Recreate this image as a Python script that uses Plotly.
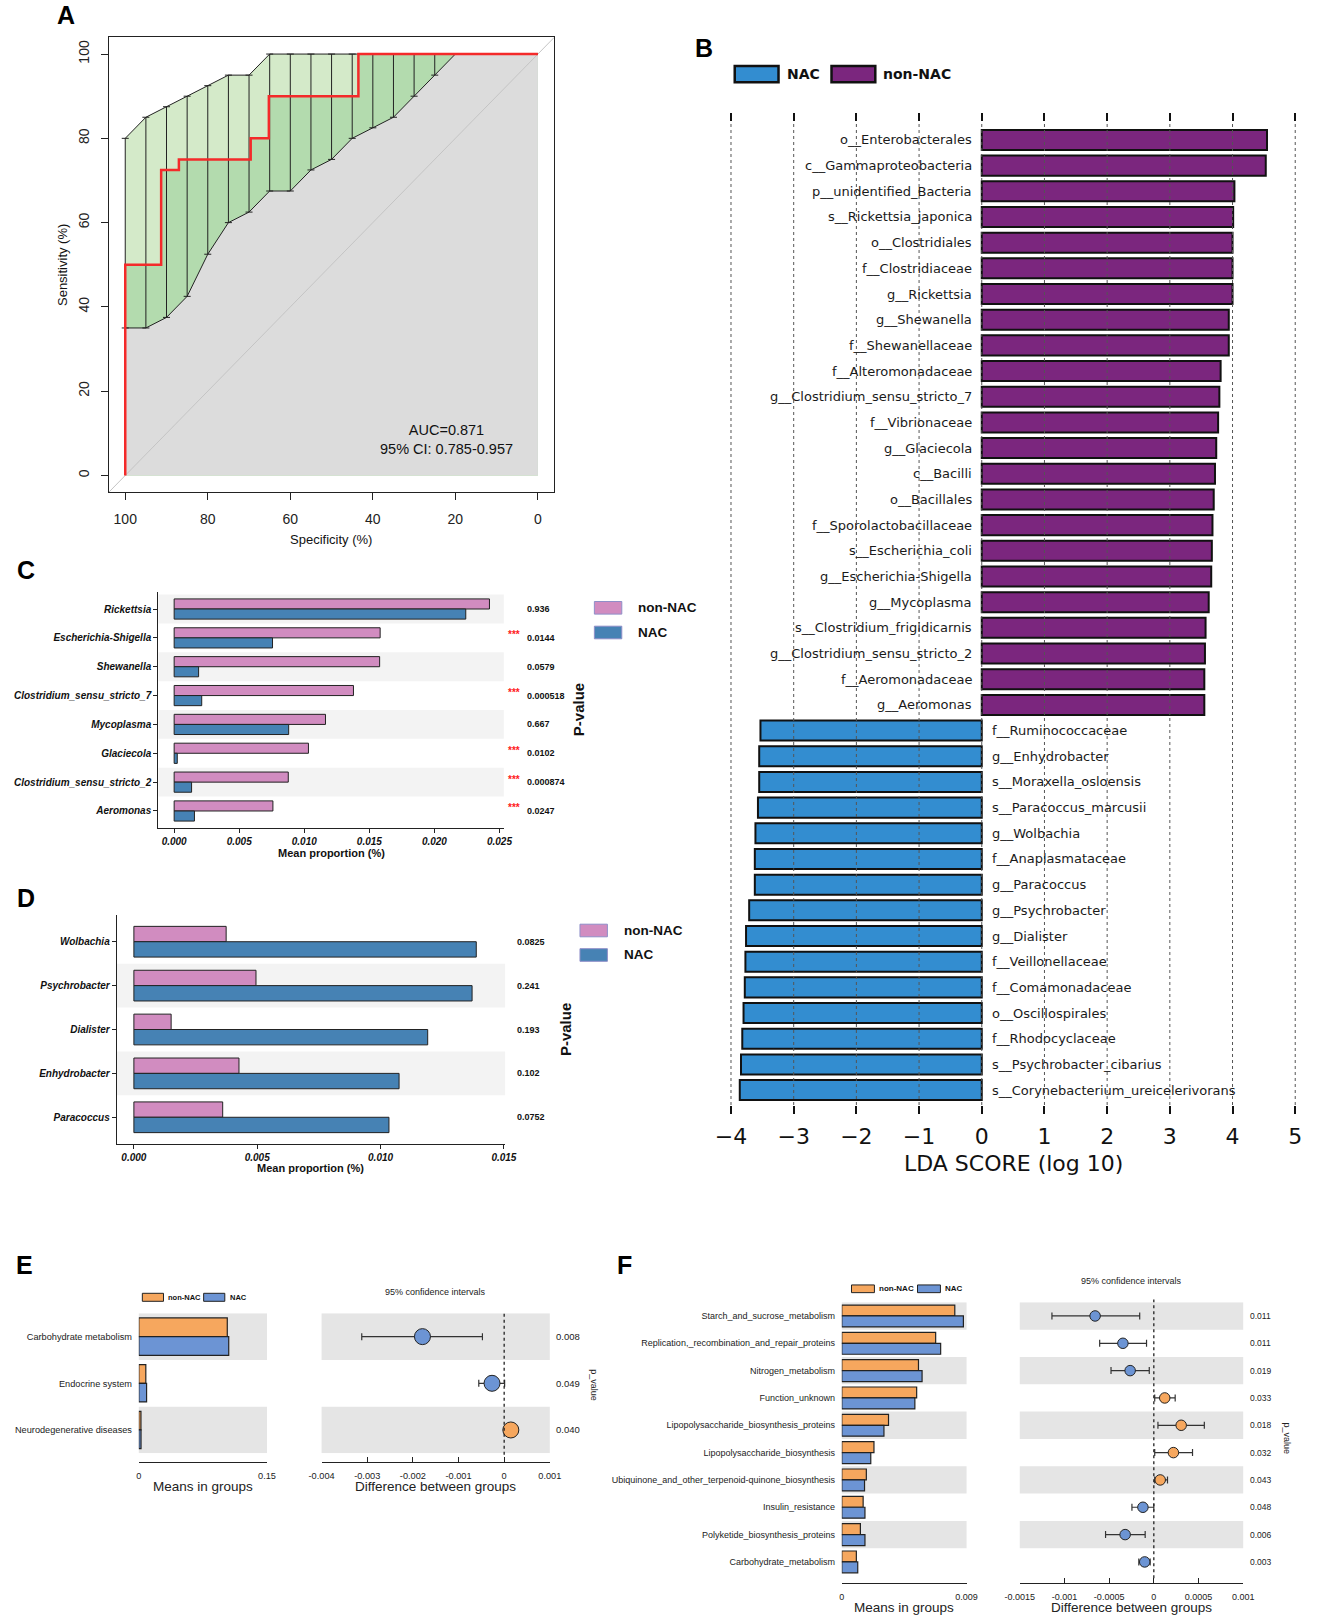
"""Six-panel microbiome figure: ROC, LEfSe, genus proportions and PICRUSt pathway comparisons."""

import plotly.graph_objects as go

W, H = 1317, 1620
ARIAL = "Liberation Sans, Arial, sans-serif"
DEJAVU = "DejaVu Sans, sans-serif"

# ---------------- A: ROC curve ----------------
roc_spec = [100, 100, 91.3, 87.0, 69.6, 65.2, 43.5, 0]
roc_sens = [0, 50, 72.5, 75, 80, 90, 100, 100]
ci_spec = [100, 95, 90, 85, 80, 75, 70, 65, 60, 55, 50, 45, 40, 35, 30, 25, 20, 15, 10, 5, 0]
ci_upper = [80, 85, 87.5, 90, 92.5, 95, 95, 100, 100, 100, 100, 100, 100, 100, 100, 100, 100, 100, 100, 100, 100]
ci_lower = [35, 35, 37.5, 42.5, 52.5, 60, 62.5, 67.5, 67.5, 72.5, 75, 80, 82.5, 85, 90, 95, 100, 100, 100, 100, 100]
roc_ticks = [0, 20, 40, 60, 80, 100]
auc_text = "AUC=0.871<br>95% CI: 0.785-0.957"

# ---------------- B: LEfSe ----------------
lefse_features = [
    "o__Enterobacterales", "c__Gammaproteobacteria", "p__unidentified_Bacteria", "s__Rickettsia_japonica",
    "o__Clostridiales", "f__Clostridiaceae", "g__Rickettsia", "g__Shewanella", "f__Shewanellaceae",
    "f__Alteromonadaceae", "g__Clostridium_sensu_stricto_7", "f__Vibrionaceae", "g__Glaciecola",
    "c__Bacilli", "o__Bacillales", "f__Sporolactobacillaceae", "s__Escherichia_coli",
    "g__Escherichia-Shigella", "g__Mycoplasma", "s__Clostridium_frigidicarnis",
    "g__Clostridium_sensu_stricto_2", "f__Aeromonadaceae", "g__Aeromonas",
    "f__Ruminococcaceae", "g__Enhydrobacter", "s__Moraxella_osloensis", "s__Paracoccus_marcusii",
    "g__Wolbachia", "f__Anaplasmataceae", "g__Paracoccus", "g__Psychrobacter", "g__Dialister",
    "f__Veillonellaceae", "f__Comamonadaceae", "o__Oscillospirales", "f__Rhodocyclaceae",
    "s__Psychrobacter_cibarius", "s__Corynebacterium_ureicelerivorans",
]
lefse_scores = [
    4.55, 4.53, 4.03, 4.01, 4.00, 4.00, 4.00, 3.94, 3.94,
    3.81, 3.79, 3.77, 3.74, 3.72, 3.70, 3.68, 3.67, 3.66, 3.62, 3.57, 3.56, 3.55, 3.55,
    -3.53, -3.55, -3.55, -3.57, -3.61, -3.62, -3.62, -3.71, -3.76,
    -3.77, -3.78, -3.80, -3.82, -3.84, -3.86,
]
lda_ticks = [-4, -3, -2, -1, 0, 1, 2, 3, 4, 5]

# ---------------- C: significant genera ----------------
c_genera = ["Rickettsia", "Escherichia-Shigella", "Shewanella", "Clostridium_sensu_stricto_7",
            "Mycoplasma", "Glaciecola", "Clostridium_sensu_stricto_2", "Aeromonas"]
c_non_nac = [0.02423, 0.01583, 0.01579, 0.01378, 0.01163, 0.01032, 0.00877, 0.00759]
c_nac = [0.02241, 0.00756, 0.00188, 0.00212, 0.00880, 0.00024, 0.00134, 0.00156]
c_pvalues = ["0.936", "0.0144", "0.0579", "0.000518", "0.667", "0.0102", "0.000874", "0.0247"]
c_ticks = [0, 0.005, 0.010, 0.015, 0.020, 0.025]

# ---------------- D: NAC-enriched genera ----------------
d_genera = ["Wolbachia", "Psychrobacter", "Dialister", "Enhydrobacter", "Paracoccus"]
d_non_nac = [0.00374, 0.00495, 0.00151, 0.00426, 0.00360]
d_nac = [0.01388, 0.01371, 0.01191, 0.01075, 0.01034]
d_pvalues = ["0.0825", "0.241", "0.193", "0.102", "0.0752"]
d_ticks = [0, 0.005, 0.010, 0.015]

# ---------------- E: KEGG level 2 ----------------
e_pathways = ["Carbohydrate metabolism", "Endocrine system", "Neurodegenerative diseases"]
e_non_nac = [0.1035, 0.0082, 0.0025]
e_nac = [0.1052, 0.0091, 0.0026]
e_diff = [-0.00179, -0.000266, 0.000146]
e_ci_low = [-0.00312, -0.000556, 0.00002]
e_ci_high = [-0.000476, 0.00001, 0.00027]
e_pvalues = ["0.008", "0.049", "0.040"]
e_mean_ticks = [0, 0.15]
e_mean_labels = ["0", "0.15"]
e_diff_ticks = [-0.004, -0.003, -0.002, -0.001, 0, 0.001]
e_diff_labels = ["-0.004", "-0.003", "-0.002", "-0.001", "0", "0.001"]

# ---------------- F: KEGG level 3 ----------------
f_pathways = ["Starch_and_sucrose_metabolism", "Replication,_recombination_and_repair_proteins",
              "Nitrogen_metabolism", "Function_unknown", "Lipopolysaccharide_biosynthesis_proteins",
              "Lipopolysaccharide_biosynthesis", "Ubiquinone_and_other_terpenoid-quinone_biosynthesis",
              "Insulin_resistance", "Polyketide_biosynthesis_proteins", "Carbohydrate_metabolism"]
f_non_nac = [0.00815, 0.00677, 0.00553, 0.00540, 0.00337, 0.00232, 0.00177, 0.00154, 0.00134, 0.00105]
f_nac = [0.00877, 0.00713, 0.00579, 0.00527, 0.00304, 0.00209, 0.00164, 0.00167, 0.00167, 0.00115]
f_diff = [-0.000657, -0.000346, -0.000265, 0.000122, 0.000306, 0.000219, 0.0000713, -0.000122, -0.000321, -0.000102]
f_ci_low = [-0.00114, -0.000606, -0.000479, 0.00001, 0.000046, 0.00001, 0.00001, -0.000245, -0.00054, -0.000168]
f_ci_high = [-0.000158, -0.0000815, -0.000051, 0.000239, 0.000565, 0.000433, 0.000153, 0.0, -0.0000968, -0.000041]
f_pvalues = ["0.011", "0.011", "0.019", "0.033", "0.018", "0.032", "0.043", "0.048", "0.006", "0.003"]
f_mean_ticks = [0, 0.009]
f_mean_labels = ["0", "0.009"]
f_diff_ticks = [-0.0015, -0.001, -0.0005, 0, 0.0005, 0.001]
f_diff_labels = ["-0.0015", "-0.001", "-0.0005", "0", "0.0005", "0.001"]

# colours
LIGHT_GREEN, DARK_GREEN, AUC_GRAY = "#d4eac9", "#b3dbae", "#dcdcdc"
ROC_RED = "#f42a2a"
PURPLE, LEFSE_BLUE = "#7b267e", "#338dd0"
PINK, STEEL = "#d18cc0", "#4682b4"
ORANGE, SOFT_BLUE = "#f6a75e", "#6c94d4"

fig = go.Figure()
shapes, notes = [], []


def dom_x(left, right):
    return [left / W, right / W]


def dom_y(top, bottom):
    return [1 - bottom / H, 1 - top / H]


def text_at(text, x, y, size, family=ARIAL, color="#111", weight="normal", style="normal",
            xanchor="center", angle=0):
    notes.append(dict(text=text, x=x / W, y=1 - y / H, xref="paper", yref="paper", showarrow=False,
                      xanchor=xanchor, yanchor="middle", textangle=angle,
                      font=dict(family=family, size=size, color=color, weight=weight, style=style)))


def box_at(x0, y0, x1, y1, fill, line="#111", width=1.0):
    shapes.append(dict(type="rect", xref="paper", yref="paper", x0=x0 / W, x1=x1 / W,
                       y0=1 - y1 / H, y1=1 - y0 / H, fillcolor=fill, line=dict(color=line, width=width)))


# ================= Panel A =================
a_xrange, a_yrange = [104, -4], [-4, 104]
closed_x = ci_spec + [ci_spec[-1], ci_spec[0]]
fig.add_trace(go.Scatter(x=closed_x, y=ci_upper + [0, 0], fill="toself", fillcolor=LIGHT_GREEN,
                         mode="lines", line=dict(width=0), xaxis="x", yaxis="y"))
fig.add_trace(go.Scatter(x=roc_spec + [roc_spec[-1], roc_spec[0]], y=roc_sens + [0, 0], fill="toself",
                         fillcolor=DARK_GREEN, mode="lines", line=dict(width=0, shape="hv"), xaxis="x", yaxis="y"))
fig.add_trace(go.Scatter(x=closed_x, y=ci_lower + [0, 0], fill="toself", fillcolor=AUC_GRAY,
                         mode="lines", line=dict(width=0), xaxis="x", yaxis="y"))
fig.add_trace(go.Scatter(x=a_xrange, y=[100 - v for v in a_xrange], mode="lines",
                         line=dict(color="#c4c4c4", width=1), xaxis="x", yaxis="y"))
for bound in (ci_upper, ci_lower):
    fig.add_trace(go.Scatter(x=ci_spec, y=bound, mode="lines", line=dict(color="#222", width=1),
                             xaxis="x", yaxis="y"))
bar_idx = [i for i in range(len(ci_spec)) if ci_upper[i] > ci_lower[i]]
fig.add_trace(go.Scatter(
    x=[ci_spec[i] for i in bar_idx],
    y=[(ci_upper[i] + ci_lower[i]) / 2 for i in bar_idx],
    mode="markers", marker=dict(size=1, color="rgba(0,0,0,0)"),
    error_y=dict(type="data", symmetric=False,
                 array=[(ci_upper[i] - ci_lower[i]) / 2 for i in bar_idx],
                 arrayminus=[(ci_upper[i] - ci_lower[i]) / 2 for i in bar_idx],
                 color="#222", thickness=1, width=3.5),
    xaxis="x", yaxis="y"))
fig.add_trace(go.Scatter(x=roc_spec, y=roc_sens, mode="lines", line=dict(color=ROC_RED, width=2.5, shape="hv"),
                         xaxis="x", yaxis="y"))

a_axis = dict(showline=True, mirror=True, linecolor="#222", linewidth=1.3, ticks="outside", ticklen=7,
              tickcolor="#222", showgrid=False, zeroline=False, tickvals=roc_ticks,
              tickfont=dict(family=ARIAL, size=14, color="#222"))
fig.update_layout(
    xaxis=dict(a_axis, domain=dom_x(95.7, 550.7), range=a_xrange, anchor="y", ticklabelstandoff=7),
    yaxis=dict(a_axis, domain=dom_y(37.2, 492.3), range=a_yrange, anchor="x", tickangle=-90,
               ticklabelstandoff=6),
)
text_at("Specificity (%)", 323, 540, 13)
text_at("Sensitivity (%)", 48, 265, 13, angle=-90)
text_at(auc_text, 441, 439.5, 14.5)

# ================= Panel B =================
pos = [(f, s) for f, s in zip(lefse_features, lefse_scores) if s > 0]
neg = [(f, s) for f, s in zip(lefse_features, lefse_scores) if s < 0]
fig.add_trace(go.Bar(y=[f for f, _ in pos], x=[s for _, s in pos], orientation="h", width=0.78,
                     marker=dict(color=PURPLE, line=dict(color="#111", width=2)), xaxis="x3", yaxis="y2"))
fig.add_trace(go.Bar(y=[f for f, _ in neg], x=[s for _, s in neg], orientation="h", width=0.78,
                     marker=dict(color=LEFSE_BLUE, line=dict(color="#111", width=2)), xaxis="x2", yaxis="y2"))
b_range = [-4.02, 5.02]
b_ticktext = [str(t) if t >= 0 else "\u2212" + str(-t) for t in lda_ticks]
b_axis = dict(range=b_range, tickvals=lda_ticks, ticks="outside", ticklen=8, tickwidth=1.5, tickcolor="#111",
              showline=False, showgrid=False, zeroline=False)
fig.update_layout(
    xaxis2=dict(b_axis, domain=dom_x(729.7, 1308.3), anchor="y2", ticktext=b_ticktext,
                tickfont=dict(family=DEJAVU, size=22, color="#111"), ticklabelstandoff=4),
    xaxis3=dict(b_axis, overlaying="x2", side="top", anchor="y2", showticklabels=False),
    yaxis2=dict(domain=dom_y(121.7, 1105), type="category", categoryarray=lefse_features,
                range=[len(lefse_features) - 1 + 0.58, -0.71], visible=False, anchor="x2"),
)
for t in lda_ticks:
    shapes.append(dict(type="line", xref="x2", yref="y2 domain", x0=t, x1=t, y0=0, y1=1, layer="above",
                       line=dict(color="#555", width=1, dash="dot")))
for f, s in zip(lefse_features, lefse_scores):
    notes.append(dict(text=f, x=0, y=f, xref="x2", yref="y2", showarrow=False,
                      xanchor="right" if s > 0 else "left", xshift=-8 if s > 0 else 8,
                      font=dict(family=DEJAVU, size=13, color="#1a1a1a")))
box_at(734.8, 66, 779.5, 82.3, LEFSE_BLUE, "#111", 2.5)
text_at("NAC", 786, 74.5, 14, family=DEJAVU, weight="bold", xanchor="left")
box_at(833.6, 66, 878.3, 82.3, PURPLE, "#111", 2.5)
text_at("non-NAC", 884, 74.5, 14, family=DEJAVU, weight="bold", xanchor="left")
text_at("LDA SCORE (log 10)", 1019, 1163, 22, family=DEJAVU)


# ================= Panels C and D =================
def proportion_panel(ax, genera, non_nac, nac, pvalues, ticks, xdom, ydom, x_range, p_left,
                     title_xy, ptitle_xy, legend_x, legend_y):
    n = len(genera)
    xa, ya = "x" + ax, "y" + ax
    fig.add_trace(go.Bar(y=genera, x=non_nac, orientation="h", width=0.35, offset=-0.35,
                         marker=dict(color=PINK, line=dict(color="#222", width=1)), xaxis=xa, yaxis=ya))
    fig.add_trace(go.Bar(y=genera, x=nac, orientation="h", width=0.35, offset=0,
                         marker=dict(color=STEEL, line=dict(color="#222", width=1)), xaxis=xa, yaxis=ya))
    bi_font = dict(family=ARIAL, size=10, color="#111", weight="bold", style="italic")
    common = dict(showline=True, linecolor="#222", linewidth=1.3, ticks="outside", ticklen=4,
                  tickcolor="#222", showgrid=False, zeroline=False, tickfont=bi_font)
    fig.update_layout({
        "xaxis" + ax: dict(common, domain=dom_x(*xdom), range=x_range, tickvals=ticks, tickformat=".3f",
                           anchor=ya),
        "yaxis" + ax: dict(common, domain=dom_y(*ydom), type="category", categoryarray=genera,
                           range=[n - 1 + 0.6, -0.6], anchor=xa),
    })
    for i, g in enumerate(genera):
        if (n - 1 - i) % 2 == 1:
            shapes.append(dict(type="rect", xref=xa + " domain", yref=ya, x0=0, x1=1, y0=i - 0.5, y1=i + 0.5,
                               fillcolor="#f3f3f3", line=dict(width=0), layer="below"))
        notes.append(dict(text=pvalues[i], x=p_left / W, y=g, xref="paper", yref=ya, showarrow=False,
                          xanchor="left", font=dict(family=ARIAL, size=9, color="#111", weight="bold")))
        if float(pvalues[i]) < 0.05:
            notes.append(dict(text="***", x=(p_left - 3) / W, y=g, xref="paper", yref=ya, showarrow=False,
                              xanchor="right", yshift=3,
                              font=dict(family=ARIAL, size=10, color="#ff2020", weight="bold")))
    text_at("Mean proportion (%)", title_xy[0], title_xy[1], 11, weight="bold")
    text_at("P-value", ptitle_xy[0], ptitle_xy[1], 15, weight="bold", angle=-90)
    box_at(legend_x, legend_y[0] - 6.3, legend_x + 28, legend_y[0] + 6.3, PINK, "#8f8fc8", 1)
    box_at(legend_x, legend_y[1] - 6.3, legend_x + 28, legend_y[1] + 6.3, STEEL, "#8f8fc8", 1)
    text_at("non-NAC", legend_x + 43, legend_y[0], 13.5, weight="bold", xanchor="left")
    text_at("NAC", legend_x + 43, legend_y[1], 13.5, weight="bold", xanchor="left")


proportion_panel("4", c_genera, c_non_nac, c_nac, c_pvalues, c_ticks, (146.4, 499), (591.7, 828.3),
                 [-0.00121, 0.02533], 521, (322.7, 853), (576, 710), 591.5, (607.8, 632.5))
proportion_panel("5", d_genera, d_non_nac, d_nac, d_pvalues, d_ticks, (104, 500.4), (915.4, 1143.6),
                 [-0.00069, 0.01505], 510, (302, 1168), (561.6, 1030), 576.8, (930.5, 955))


# ================= Panels E and F =================
def stamp_panel(ax_bar, ax_ci, paths, non_nac, nac, diff, lo, hi, pvalues, mean_ticks, mean_labels,
                diff_ticks, diff_labels, bar_dom, ci_dom, ydom, axis_y, label_size, dot_size,
                p_left, p_size, p_title_xy, ci_title_y, titles_y, legend):
    n = len(paths)
    xb, yb, xc, yc = "x" + ax_bar, "y" + ax_bar, "x" + ax_ci, "y" + ax_ci
    fig.add_trace(go.Bar(y=paths, x=non_nac, orientation="h", width=0.4, offset=-0.4,
                         marker=dict(color=ORANGE, line=dict(color="#222", width=1.2)), xaxis=xb, yaxis=yb))
    fig.add_trace(go.Bar(y=paths, x=nac, orientation="h", width=0.4, offset=0,
                         marker=dict(color=SOFT_BLUE, line=dict(color="#222", width=1.2)), xaxis=xb, yaxis=yb))
    fig.add_trace(go.Scatter(
        x=diff, y=paths, mode="markers",
        marker=dict(size=dot_size, color=[ORANGE if d > 0 else SOFT_BLUE for d in diff],
                    line=dict(color="#222", width=1)),
        error_x=dict(type="data", symmetric=False, array=[h - d for h, d in zip(hi, diff)],
                     arrayminus=[d - l for d, l in zip(diff, lo)], color="#333", thickness=1.2, width=3.5),
        xaxis=xc, yaxis=yc))
    tick_font = dict(family=ARIAL, size=label_size, color="#222")
    x_common = dict(anchor="free", position=1 - axis_y / H, showline=True, linecolor="#222", linewidth=1.3,
                    ticks="inside", ticklen=5, tickcolor="#222", showgrid=False, zeroline=False,
                    tickfont=tick_font, ticklabelstandoff=5)
    y_common = dict(domain=dom_y(*ydom), type="category", categoryarray=paths, range=[n - 0.5, -0.5],
                    showline=False, showgrid=False, zeroline=False)
    fig.update_layout({
        "xaxis" + ax_bar: dict(x_common, domain=dom_x(*bar_dom), range=[mean_ticks[0], mean_ticks[-1]],
                               tickvals=mean_ticks, ticktext=mean_labels),
        "xaxis" + ax_ci: dict(x_common, domain=dom_x(*ci_dom), range=[diff_ticks[0], diff_ticks[-1]],
                              tickvals=diff_ticks, ticktext=diff_labels),
        "yaxis" + ax_bar: dict(y_common, anchor=xb, ticks="outside", ticklen=4, tickcolor="rgba(0,0,0,0)",
                               tickfont=dict(family=ARIAL, size=label_size, color="#222")),
        "yaxis" + ax_ci: dict(y_common, anchor=xc, showticklabels=False),
    })
    for i, p in enumerate(paths):
        if i % 2 == 0:
            for xa, ya in ((xb, yb), (xc, yc)):
                shapes.append(dict(type="rect", xref=xa + " domain", yref=ya, x0=0, x1=1, y0=i - 0.5,
                                   y1=i + 0.5, fillcolor="#e5e5e5", line=dict(width=0), layer="below"))
        notes.append(dict(text=pvalues[i], x=p_left / W, y=p, xref="paper", yref=yc, showarrow=False,
                          xanchor="left", font=dict(family=ARIAL, size=p_size, color="#222")))
    shapes.append(dict(type="line", xref=xc, yref=yc + " domain", x0=0, x1=0, y0=-0.01, y1=1.01,
                       line=dict(color="#222", width=1.3, dash="dot")))
    bar_mid = (bar_dom[0] + bar_dom[1]) / 2
    ci_mid = (ci_dom[0] + ci_dom[1]) / 2
    text_at("Means in groups", bar_mid, titles_y, 13.5, color="#222")
    text_at("Difference between groups", ci_mid, titles_y, 13.5, color="#222")
    text_at("95% confidence intervals", ci_mid, ci_title_y, 9, color="#222")
    text_at("p_value", p_title_xy[0], p_title_xy[1], 9, color="#222", angle=90)
    lx, ly, lw, lh, gap, lsize = legend
    box_at(lx, ly - lh / 2, lx + lw, ly + lh / 2, ORANGE, "#222", 1)
    text_at("non-NAC", lx + lw + 3, ly, lsize, weight="bold", xanchor="left")
    bx = lx + lw + gap
    box_at(bx, ly - lh / 2, bx + lw, ly + lh / 2, SOFT_BLUE, "#222", 1)
    text_at("NAC", bx + lw + 3, ly, lsize, weight="bold", xanchor="left")


stamp_panel("6", "7", e_pathways, e_non_nac, e_nac, e_diff, e_ci_low, e_ci_high, e_pvalues,
            e_mean_ticks, e_mean_labels, e_diff_ticks, e_diff_labels,
            (126.4, 257.3), (313, 546), (1313.3, 1453.3), 1461.7, 9.2, 16, 550, 9.5,
            (591.5, 1385.6), 1291.7, 1486, (130, 1297.3, 21.6, 8, 41, 7.5))
stamp_panel("8", "9", f_pathways, f_non_nac, f_nac, f_diff, f_ci_low, f_ci_high, f_pvalues,
            f_mean_ticks, f_mean_labels, f_diff_ticks, f_diff_labels,
            (844.1, 971.5), (1025.8, 1253.9), (1302.3, 1575.6), 1582.7, 9, 10.5, 1258.5, 8.5,
            (1298.4, 1438.3), 1281, 1607, (854, 1288.8, 23.4, 7.7, 44, 8))

# panel letters
for letter, x, y in (("A", 51.7, 15.5), ("B", 703.6, 48), ("C", 11, 570), ("D", 11, 898),
                     ("E", 10, 1265), ("F", 622.5, 1265)):
    text_at(letter, x, y, 25, color="#000", weight="bold")

fig.update_layout(
    width=W, height=H, margin=dict(l=0, r=0, t=0, b=0),
    paper_bgcolor="white", plot_bgcolor="white",
    showlegend=False, barmode="overlay", hovermode=False,
    font=dict(family=ARIAL, color="#222"),
    shapes=shapes, annotations=notes,
)
fig.write_html("out.html", config={"displayModeBar": False},
               post_script="document.body.style.margin='0';document.body.style.overflow='hidden';")
